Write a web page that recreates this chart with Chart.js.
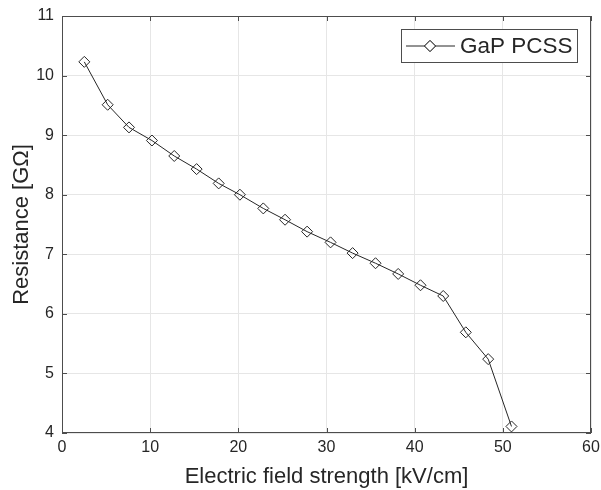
<!DOCTYPE html>
<html>
<head>
  <title>GaP PCSS resistance</title>
  <script src="https://cdn.jsdelivr.net/npm/chart.js"></script>
  <style>
    body { margin: 0; background: #fff; }
    #chart { display: block; }
  </style>
</head>
<body>
  <canvas id="chart" width="601" height="490"></canvas>

  <script>
    // measured points: field strength [kV/cm] vs resistance [GOhm]
    const fieldStrength = [2.53, 5.18, 7.60, 10.20, 12.73, 15.27, 17.77, 20.18, 22.83, 25.30,
                           27.80, 30.46, 32.96, 35.56, 38.13, 40.66, 43.24, 45.80, 48.34, 50.98];
    const resistance = [10.23, 9.51, 9.13, 8.91, 8.65, 8.43, 8.19, 8.00, 7.77, 7.58,
                        7.38, 7.20, 7.02, 6.85, 6.67, 6.48, 6.30, 5.69, 5.24, 4.11];
    const seriesName = 'GaP PCSS';
    const xTitle = 'Electric field strength [kV/cm]';
    const yTitle = 'Resistance [G\u03A9]';

    const FONT = '"Liberation Sans", Arial, sans-serif';
    const INK = '#262626';

    // box around the axes with inward tick marks on all four sides
    const axesBox = {
      id: 'axesBox',
      afterDatasetsDraw(chart) {
        const { ctx, chartArea: a, scales } = chart;
        ctx.save();
        ctx.strokeStyle = '#4d4d4d';
        ctx.lineWidth = 1;
        ctx.strokeRect(a.left + 0.5, a.top + 0.5, a.right - a.left - 1, a.bottom - a.top - 1);
        ctx.beginPath();
        scales.x.ticks.forEach(t => {
          const px = Math.round(scales.x.getPixelForValue(t.value)) + 0.5;
          ctx.moveTo(px, a.bottom); ctx.lineTo(px, a.bottom - 5);
          ctx.moveTo(px, a.top); ctx.lineTo(px, a.top + 5);
        });
        scales.y.ticks.forEach(t => {
          const py = Math.round(scales.y.getPixelForValue(t.value)) + 0.5;
          ctx.moveTo(a.left, py); ctx.lineTo(a.left + 5, py);
          ctx.moveTo(a.right, py); ctx.lineTo(a.right - 5, py);
        });
        ctx.stroke();
        ctx.restore();
      }
    };

    // legend in the upper right corner of the axes
    const boxLegend = {
      id: 'boxLegend',
      afterDraw(chart) {
        const { ctx, chartArea: a } = chart;
        const ds = chart.data.datasets[0];
        const w = 177, h = 34;
        const x = a.right - 13 - w, y = a.top + 13;
        ctx.save();
        ctx.fillStyle = '#fff';
        ctx.fillRect(x, y, w, h);
        ctx.strokeStyle = '#4d4d4d';
        ctx.lineWidth = 1;
        ctx.strokeRect(x + 0.5, y + 0.5, w - 1, h - 1);
        const cy = y + h / 2;
        ctx.strokeStyle = ds.borderColor;
        ctx.beginPath();
        ctx.moveTo(x + 5, cy); ctx.lineTo(x + 54, cy);
        ctx.stroke();
        ctx.fillStyle = '#fff';
        Chart.helpers.drawPoint(ctx, {
          pointStyle: 'rectRot', radius: ds.pointRadius, borderWidth: 1
        }, x + 29, cy);
        ctx.fill();
        ctx.stroke();
        ctx.fillStyle = INK;
        ctx.font = '22.5px ' + FONT;
        ctx.textBaseline = 'middle';
        ctx.fillText(ds.label, x + 59, cy + 1);
        ctx.restore();
      }
    };

    const chart = new Chart(document.getElementById('chart'), {
      type: 'line',
      data: {
        datasets: [{
          label: seriesName,
          data: fieldStrength.map((v, i) => ({ x: v, y: resistance[i] })),
          borderColor: '#262626',
          borderWidth: 1,
          pointStyle: 'rectRot',
          pointRadius: 5.5,
          pointBorderColor: '#262626',
          pointBackgroundColor: 'rgba(255,255,255,0)',
          pointBorderWidth: 1,
          tension: 0
        }]
      },
      options: {
        responsive: false,
        animation: false,
        layout: { padding: { top: 16, right: 10, left: 0, bottom: 0 } },
        plugins: {
          legend: { display: false },
          tooltip: { enabled: false }
        },
        scales: {
          x: {
            type: 'linear',
            min: 0, max: 60,
            ticks: { stepSize: 10, color: INK, padding: 5, font: { family: FONT, size: 16 } },
            grid: { color: '#e6e6e6', drawTicks: false },
            border: { display: false },
            title: { display: true, text: xTitle, color: INK, font: { family: FONT, size: 22 }, padding: { top: 0, bottom: 0 } },
            afterFit: s => { s.height = 57; s.paddingLeft = 0; s.paddingRight = 0; }
          },
          y: {
            min: 4, max: 11,
            ticks: { stepSize: 1, color: INK, padding: 8, font: { family: FONT, size: 16 } },
            grid: { color: '#e6e6e6', drawTicks: false },
            border: { display: false },
            title: { display: true, text: yTitle, color: INK, font: { family: FONT, size: 22 }, padding: { top: 9, bottom: 0 } },
            afterFit: s => { s.width = 62; s.paddingTop = 0; s.paddingBottom = 0; }
          }
        }
      },
      plugins: [axesBox, boxLegend]
    });
  </script>
</body>
</html>
